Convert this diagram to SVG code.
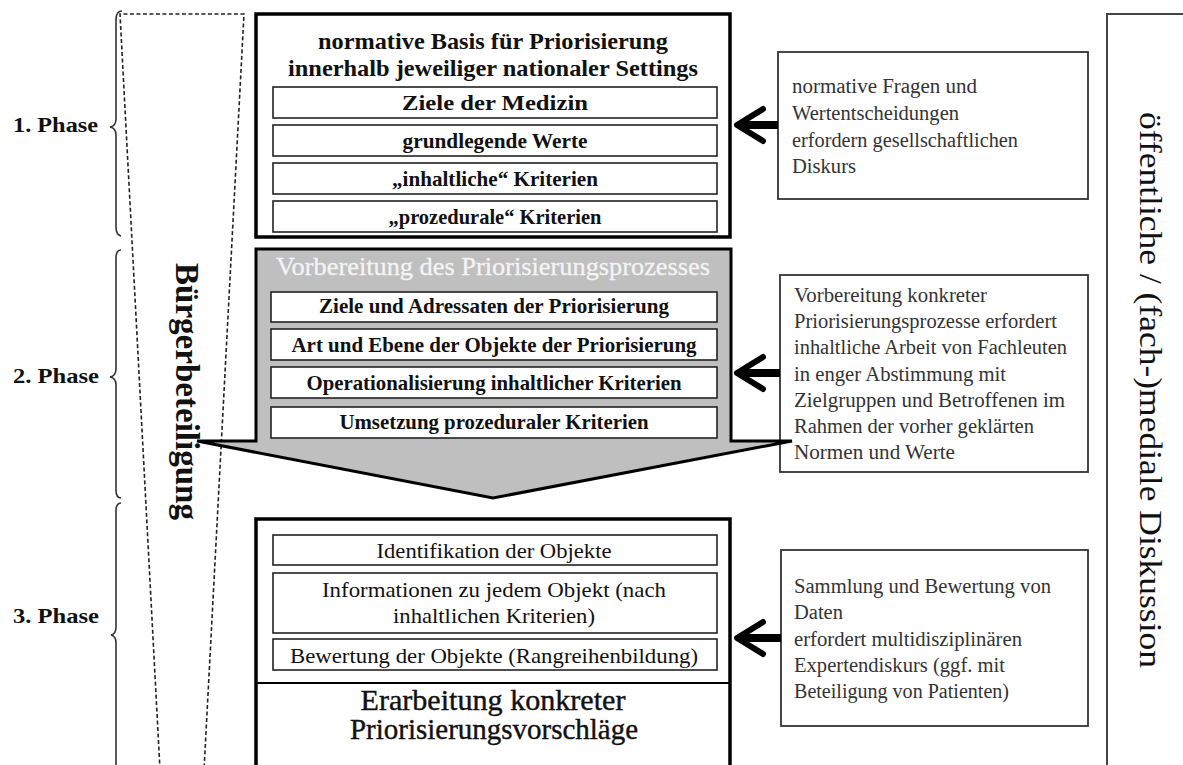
<svg xmlns="http://www.w3.org/2000/svg" width="1183" height="765" viewBox="0 0 1183 765">
  <defs>
    <style>
      .phase { font-family: "Liberation Serif", serif; font-weight: bold; font-size: 22px; fill: #111; }
      .title { font-family: "Liberation Serif", serif; font-weight: bold; font-size: 24px; fill: #111; text-anchor: middle; }
      .item { font-family: "Liberation Serif", serif; font-weight: bold; font-size: 21px; fill: #111; text-anchor: middle; }
      .item-reg { font-family: "Liberation Serif", serif; font-size: 22px; fill: #111; text-anchor: middle; }
      .big { font-family: "Liberation Serif", serif; font-size: 29px; fill: #111; text-anchor: middle; stroke: #111; stroke-width: 0.4; }
      .note { font-family: "Liberation Serif", serif; font-size: 20px; fill: #333; }
      .vert { font-family: "Liberation Serif", serif; font-size: 32px; fill: #111; }
      .vert-b { font-family: "Liberation Serif", serif; font-weight: bold; font-size: 33px; fill: #111; }
      .outer { fill: #fff; stroke: #000; stroke-width: 3.5; }
      .inner { fill: #fff; stroke: #222; stroke-width: 1.6; }
      .notebox { fill: none; stroke: #333; stroke-width: 1.8; }
      .brace { fill: none; stroke: #333; stroke-width: 1.6; }
      .dashed { fill: none; stroke: #222; stroke-width: 1.6; stroke-dasharray: 4 2.5; }
      .shaft { stroke: #000; stroke-width: 8; }
      .head { fill: none; stroke: #000; stroke-width: 6; stroke-linecap: round; stroke-linejoin: round; }
    </style>
  </defs>

  <!-- phase labels with braces -->
  <g id="phase1">
    <path class="brace" d="M122,11 Q116,11 116,20 L116,119 Q116,126 110,127 Q116,128 116,135 L116,227 Q116,235 121,236"/>
    <text class="phase" x="13" y="132" textLength="85" lengthAdjust="spacingAndGlyphs">1. Phase</text>
  </g>
  <g id="phase2">
    <path class="brace" d="M121,250 Q116,250 116,258 L116,369 Q116,376 110,377 Q116,378 116,385 L116,490 Q116,498 121,498"/>
    <text class="phase" x="13" y="383" textLength="86" lengthAdjust="spacingAndGlyphs">2. Phase</text>
  </g>
  <g id="phase3">
    <path class="brace" d="M121,503 Q116,503 116,511 L116,627 Q116,634 111,635 Q116,636 116,643 L116,770"/>
    <text class="phase" x="13" y="623" textLength="86" lengthAdjust="spacingAndGlyphs">3. Phase</text>
  </g>

  <!-- citizen participation funnel -->
  <g id="buergerbeteiligung">
    <path class="dashed" d="M160,770 L120,14 L244,14 L204,770"/>
    <text class="vert-b" transform="translate(176,263) rotate(90)" x="0" y="0" textLength="257" lengthAdjust="spacingAndGlyphs">Bürgerbeteiligung</text>
  </g>

  <!-- public / professional media discussion frame -->
  <g id="diskussion">
    <path d="M1190,14 L1107,14 L1107,770" fill="none" stroke="#444" stroke-width="2"/>
    <text class="vert" transform="translate(1140,112) rotate(90)" x="0" y="0" textLength="556" lengthAdjust="spacingAndGlyphs">öffentliche / (fach-)mediale Diskussion</text>
  </g>

  <!-- explanatory notes -->
  <g id="note1">
    <rect class="notebox" x="778" y="52" width="310" height="147"/>
    <text class="note" x="792" y="93" textLength="185" lengthAdjust="spacingAndGlyphs">normative Fragen und</text>
    <text class="note" x="792" y="120" textLength="167" lengthAdjust="spacingAndGlyphs">Wertentscheidungen</text>
    <text class="note" x="792" y="146.5" textLength="226" lengthAdjust="spacingAndGlyphs">erfordern gesellschaftlichen</text>
    <text class="note" x="792" y="172.5" textLength="64" lengthAdjust="spacingAndGlyphs">Diskurs</text>
  </g>
  <g id="note2">
    <rect class="notebox" x="780" y="275" width="308" height="197"/>
    <text class="note" x="794" y="301.5" textLength="193" lengthAdjust="spacingAndGlyphs">Vorbereitung konkreter</text>
    <text class="note" x="794" y="327.5" textLength="263" lengthAdjust="spacingAndGlyphs">Priorisierungsprozesse erfordert</text>
    <text class="note" x="794" y="354" textLength="273" lengthAdjust="spacingAndGlyphs">inhaltliche Arbeit von Fachleuten</text>
    <text class="note" x="794" y="380.5" textLength="212" lengthAdjust="spacingAndGlyphs">in enger Abstimmung mit</text>
    <text class="note" x="794" y="406.5" textLength="271" lengthAdjust="spacingAndGlyphs">Zielgruppen und Betroffenen im</text>
    <text class="note" x="794" y="433" textLength="240" lengthAdjust="spacingAndGlyphs">Rahmen der vorher geklärten</text>
    <text class="note" x="794" y="459" textLength="161" lengthAdjust="spacingAndGlyphs">Normen und Werte</text>
  </g>
  <g id="note3">
    <rect class="notebox" x="781" y="550" width="307" height="176"/>
    <text class="note" x="794" y="593" textLength="257" lengthAdjust="spacingAndGlyphs">Sammlung und Bewertung von</text>
    <text class="note" x="794" y="619" textLength="49" lengthAdjust="spacingAndGlyphs">Daten</text>
    <text class="note" x="794" y="645.5" textLength="228" lengthAdjust="spacingAndGlyphs">erfordert multidisziplinären</text>
    <text class="note" x="794" y="671.5" textLength="211" lengthAdjust="spacingAndGlyphs">Expertendiskurs (ggf. mit</text>
    <text class="note" x="794" y="698" textLength="215" lengthAdjust="spacingAndGlyphs">Beteiligung von Patienten)</text>
  </g>

  <!-- phase 1: normative basis -->
  <g id="normative-basis">
    <rect class="outer" x="256" y="14" width="474" height="223"/>
    <text class="title" x="493" y="49" textLength="350" lengthAdjust="spacingAndGlyphs">normative Basis für Priorisierung</text>
    <text class="title" x="493" y="76" textLength="410" lengthAdjust="spacingAndGlyphs">innerhalb jeweiliger nationaler Settings</text>
    <rect class="inner" x="273" y="87" width="444" height="31"/>
    <text class="item" x="495" y="109.5" textLength="186" lengthAdjust="spacingAndGlyphs">Ziele der Medizin</text>
    <rect class="inner" x="273" y="125" width="444" height="31"/>
    <text class="item" x="495" y="147.5" textLength="185" lengthAdjust="spacingAndGlyphs">grundlegende Werte</text>
    <rect class="inner" x="273" y="163" width="444" height="31"/>
    <text class="item" x="495" y="185.5" textLength="206" lengthAdjust="spacingAndGlyphs">„inhaltliche“ Kriterien</text>
    <rect class="inner" x="273" y="201" width="444" height="31"/>
    <text class="item" x="495" y="223.5" textLength="213" lengthAdjust="spacingAndGlyphs">„prozedurale“ Kriterien</text>
  </g>

  <!-- phase 2: preparation, drawn as a down arrow -->
  <g id="vorbereitung">
    <path d="M256,249 L731,249 L731,441 L792,441 L493,498 L197,441 L256,441 Z" fill="#bfbfbf" stroke="#000" stroke-width="3" stroke-linejoin="miter"/>
    <text x="493" y="275" font-family="Liberation Serif, serif" font-size="25" fill="#f4f4f4" stroke="#f4f4f4" stroke-width="0.3" text-anchor="middle" textLength="434" lengthAdjust="spacingAndGlyphs">Vorbereitung des Priorisierungsprozesses</text>
    <rect class="inner" x="271" y="292" width="446" height="30"/>
    <text class="item" x="494" y="313" textLength="350" lengthAdjust="spacingAndGlyphs">Ziele und Adressaten der Priorisierung</text>
    <rect class="inner" x="271" y="329" width="446" height="31"/>
    <text class="item" x="494" y="351.5" textLength="405" lengthAdjust="spacingAndGlyphs">Art und Ebene der Objekte der Priorisierung</text>
    <rect class="inner" x="271" y="367" width="446" height="31"/>
    <text class="item" x="494" y="390" textLength="375" lengthAdjust="spacingAndGlyphs">Operationalisierung inhaltlicher Kriterien</text>
    <rect class="inner" x="271" y="407" width="446" height="31"/>
    <text class="item" x="494" y="428.5" textLength="309" lengthAdjust="spacingAndGlyphs">Umsetzung prozeduraler Kriterien</text>
  </g>

  <!-- phase 3: concrete proposals -->
  <g id="erarbeitung">
    <rect class="outer" x="256" y="519" width="474" height="260"/>
    <line x1="256" y1="683" x2="730" y2="683" stroke="#000" stroke-width="2.2"/>
    <rect class="inner" x="273" y="535" width="444" height="30"/>
    <text class="item-reg" x="494" y="558" textLength="235" lengthAdjust="spacingAndGlyphs">Identifikation der Objekte</text>
    <rect class="inner" x="273" y="573" width="444" height="60"/>
    <text class="item-reg" x="494" y="597" textLength="344" lengthAdjust="spacingAndGlyphs">Informationen zu jedem Objekt (nach</text>
    <text class="item-reg" x="494" y="623" textLength="202" lengthAdjust="spacingAndGlyphs">inhaltlichen Kriterien)</text>
    <rect class="inner" x="273" y="639" width="444" height="31"/>
    <text class="item-reg" x="494" y="663" textLength="408" lengthAdjust="spacingAndGlyphs">Bewertung der Objekte (Rangreihenbildung)</text>
    <text class="big" x="493" y="710" textLength="265" lengthAdjust="spacingAndGlyphs">Erarbeitung  konkreter</text>
    <text class="big" x="494" y="739" textLength="288" lengthAdjust="spacingAndGlyphs">Priorisierungsvorschläge</text>
  </g>

  <!-- connectors: notes feed into the phases -->
  <g id="connectors">
    <line class="shaft" x1="778" y1="125" x2="740" y2="125"/>
    <polyline class="head" points="763,109 737,125 763,141"/>
    <line class="shaft" x1="780" y1="373" x2="740" y2="373"/>
    <polyline class="head" points="763,357 737,373 763,389"/>
    <line class="shaft" x1="781" y1="638" x2="740" y2="638"/>
    <polyline class="head" points="763,622 737,638 763,654"/>
  </g>
</svg>
